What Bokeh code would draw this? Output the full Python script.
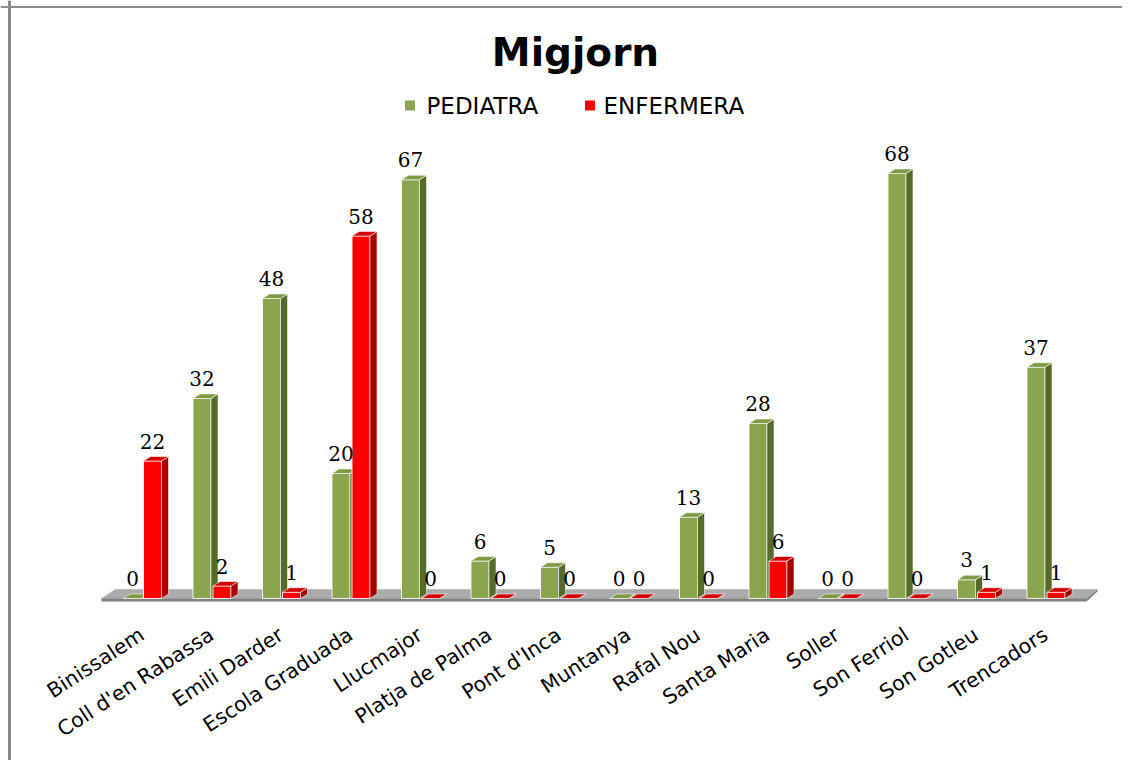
from bokeh.plotting import figure
from bokeh.models import Range1d, Span
from bokeh.core.properties import value
from bokeh.embed import file_html
from bokeh.resources import INLINE

# ---------------- data ----------------
categories = ["Binissalem", "Coll d'en Rabassa", "Emili Darder", "Escola Graduada",
              "Llucmajor", "Platja de Palma", "Pont d'Inca", "Muntanya", "Rafal Nou",
              "Santa Maria", "Soller", "Son Ferriol", "Son Gotleu", "Trencadors"]
pediatra = [0, 32, 48, 20, 67, 6, 5, 0, 13, 28, 0, 68, 3, 37]
enfermera = [22, 2, 1, 58, 0, 0, 0, 0, 0, 6, 0, 0, 1, 1]
series_names = ["PEDIATRA", "ENFERMERA"]
title_text = "Migjorn"

# ---------------- layout ----------------
W, H = 1122, 760
PXX = 69.5          # pixels per category
PXY = 6.25          # pixels per unit value
X0 = 143            # pixel x of first category centre
Y0 = 598            # pixel y of value 0

x_start = -X0 / PXX
x_end = (W - X0) / PXX
y_end = Y0 / PXY
y_start = -(H - Y0) / PXY

def gx(px):
    return (px - X0) / PXX

def gy(py):
    return (Y0 - py) / PXY

p = figure(width=W, height=H, output_backend="svg", toolbar_location=None,
           x_range=Range1d(x_start, x_end), y_range=Range1d(y_start, y_end),
           min_border=0, background_fill_color="white", border_fill_color="white")
p.axis.visible = False
p.grid.visible = False
p.outline_line_color = None

# frame lines
p.add_layout(Span(location=gx(9), dimension="height",
                  line_color="#888888", line_width=3))
p.add_layout(Span(location=gy(6.5), dimension="width",
                  line_color="#8c8c8c", line_width=2))

# floor
fl, fr = gx(101), gx(1086)
bl, br = gx(115), gx(1097)
p.patch([fl, fr, br, bl], [gy(598), gy(598), gy(589), gy(589)],
        fill_color="#ababab", line_color="#bdbdbd", line_width=1)
p.patch([fl, fr, br, br, fr, fl], [gy(598), gy(598), gy(589), gy(591), gy(601), gy(601)],
        fill_color="#808080", line_color=None)

# bars
bw = 18 / PXX
ddx = 7 / PXX
ddy = 4.5 / PXY
styles = [
    dict(vals=pediatra, off=-20 / PXX, front="#8aa54e", side="#566a2c", top="#7f9a45"),
    dict(vals=enfermera, off=0.0, front="#ff0000", side="#a50000", top="#d40000"),
]

label_x, label_y, label_t = [], [], []
for st in styles:
    xs_l = [i + st["off"] for i in range(len(categories))]
    xs_r = [l + bw for l in xs_l]
    v = st["vals"]
    p.quad(left=xs_l, right=xs_r, bottom=[0] * len(v), top=v,
           fill_color=st["front"], line_color="white", line_width=1, line_alpha=0.85)
    side_xs = [[r, r + ddx, r + ddx, r] for r in xs_r]
    side_ys = [[0, ddy, val + ddy, val] for val in v]
    p.patches(side_xs, side_ys, fill_color=st["side"], line_color="white",
              line_width=0.8, line_alpha=0.7)
    top_xs = [[l, l + ddx, r + ddx, r] for l, r in zip(xs_l, xs_r)]
    top_ys = [[val, val + ddy, val + ddy, val] for val in v]
    p.patches(top_xs, top_ys, fill_color=st["top"], line_color="white",
              line_width=0.8, line_alpha=0.7)
    for l, r, val in zip(xs_l, xs_r, v):
        label_x.append((l + r) / 2)
        label_y.append(val)
        label_t.append(str(val))

p.text(x=label_x, y=label_y, text=label_t, text_align="center",
       text_baseline="alphabetic", y_offset=-20,
       text_font=value("DejaVu Serif"), text_font_size="20px", text_color="black")

# category labels
p.text(x=list(range(len(categories))), y=[0] * len(categories), text=categories,
       angle=33, angle_units="deg", text_align="right", text_baseline="top",
       x_offset=-8, y_offset=24,
       text_font=value("DejaVu Sans"), text_font_size="20.5px", text_color="black")

# title
p.text(x=[gx(575)], y=[gy(52)], text=[title_text], text_align="center",
       text_baseline="alphabetic", text_font=value("DejaVu Sans"),
       text_font_style="bold", text_font_size="39px", text_color="black")

# legend
p.scatter(x=[gx(409.5), gx(589.5)], y=[gy(105), gy(105)], marker="square", size=10,
          fill_color=[styles[0]["front"], styles[1]["front"]], line_color=None)
p.text(x=[gx(426), gx(603)], y=[gy(105), gy(105)], text=series_names,
       text_align="left", text_baseline="middle", text_font=value("DejaVu Sans"),
       text_font_size="23px", text_color="black")

open("out.html", "w").write(file_html(p, INLINE))
